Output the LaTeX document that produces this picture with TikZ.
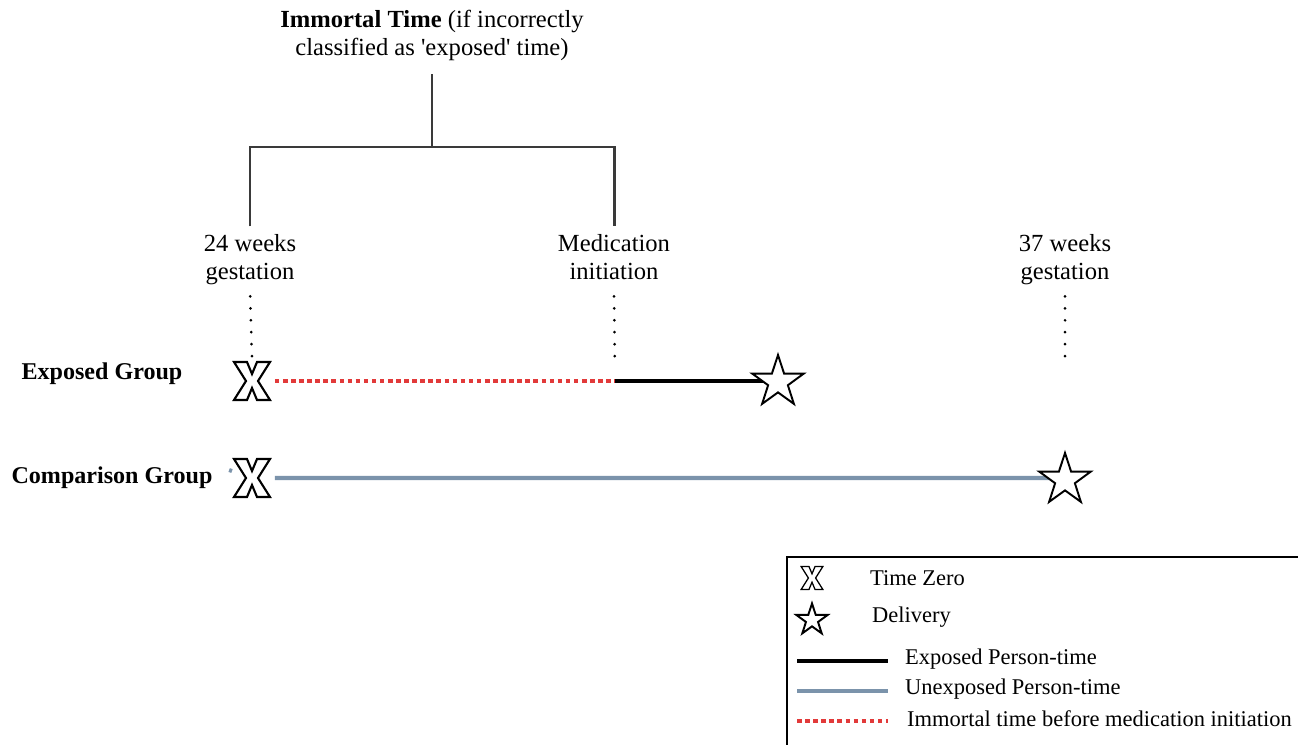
\documentclass[tikz,border=0pt]{standalone}
\usepackage{fontspec}
\setmainfont{Liberation Serif}
\usetikzlibrary{shapes.geometric,backgrounds}
\definecolor{brgray}{HTML}{3A3A3A}
\definecolor{unexp}{HTML}{7B93AB}
\definecolor{immred}{HTML}{E23A3A}
\newcommand\sq{\XeTeXglyph\XeTeXglyphindex "quotesingle" \relax}
\newcommand\twolines[2]{\begin{tabular}{@{}c@{}}#1\\#2\end{tabular}}
\tikzset{
  lbl/.style={font=\fontsize{14}{15.5}\selectfont, inner sep=1pt},
  grp/.style={font=\fontsize{13.7}{15.5}\selectfont\bfseries, inner sep=1pt},
  key/.style={font=\fontsize{12.8}{15}\selectfont, anchor=west, inner sep=1pt},
  bracket/.style={draw=brgray, line width=1.7pt},
  dots/.style={line width=1.7pt, line cap=round, dash pattern=on 0pt off 6.8pt},
  exposed/.style={line width=1.8pt},
  unexposed/.style={draw=unexp, line width=2.3pt},
  immortal/.style={draw=immred, line width=1.8pt, dash pattern=on 2.6pt off 2pt},
  zero/.style={minimum width=#1*0.9cm, minimum height=#1*0.9cm, inner sep=0pt,
    path picture={\draw[line width=#1*1.2pt, fill=white, shift={(path picture bounding box.center)}]
      ({-18*#1},{19*#1}) -- ({-5*#1},{19*#1}) -- (0,{7*#1}) -- ({5*#1},{19*#1}) -- ({18*#1},{19*#1})
      -- ({6*#1},0) -- ({18*#1},{-19*#1}) -- ({5*#1},{-19*#1}) -- (0,{-7*#1}) -- ({-5*#1},{-19*#1})
      -- ({-18*#1},{-19*#1}) -- ({-6*#1},0) -- cycle;}},
  birth/.style={star, star points=5, star point ratio=2.6, draw, fill=white, line width=1.1pt,
    minimum size=#1, inner sep=0pt}
}

\begin{document}
\begin{tikzpicture}[x=0.02cm, y=-0.02cm]
\useasboundingbox (0,0) rectangle (1298,744);
% time points
\node[lbl] (title) at (432,36) {\twolines{\textbf{Immortal Time} (if incorrectly}{classified as \sq exposed\sq{} time)}};
\node[lbl] (t24) at (250,260) {\twolines{24 weeks}{gestation}};
\node[lbl] (tmed) at (614,260) {\twolines{Medication}{initiation}};
\node[lbl] (t37) at (1065,260) {\twolines{37 weeks}{gestation}};
\coordinate (br) at (432,147);
\draw[bracket, shorten <=2.5pt, shorten >=2.5pt] (t24.north) |- (br) -| (tmed.north);
\draw[bracket, shorten >=5pt] (br) -- (title.south);

% groups
\node[grp] (egrp) at (102,374) {Exposed Group};
\node[grp] (cgrp) at (112,478) {Comparison Group};
\node[zero=1] (ex) at (252,381) {};
\node[birth=1.08cm] (es) at (778,382) {};
\coordinate (mi) at (615,381);
\node[zero=1] (cx) at (252,478) {};
\node[birth=1.08cm] (cs) at (1065,480) {};
\coordinate (stub) at (232,471);
\coordinate (g37) at (1065,366);

\begin{scope}[on background layer]
\draw[dots, shorten <=4pt] (t24.south) -- (ex.north);
\draw[dots, shorten <=4pt, shorten >=9pt] (tmed.south) -- (mi);
\draw[dots, shorten <=4pt] (t37.south) -- (g37);
\draw[immortal] (ex) -- (mi);
\draw[exposed] (mi) -- (mi -| es);
\draw[unexposed] (stub) -- (cx) -- (cx -| cs);
\end{scope}

% legend
\draw[line width=1.4pt] (787,557) rectangle (1330,780);
\node[zero=0.6] (lx) at (812,578) {};
\node[key] (lxt) at (868,578) {Time Zero};
\node[birth=0.66cm] (ls) at (812,620) {};
\node[key] (lst) at (870,617) {Delivery};
\coordinate (la1) at (797,661); \coordinate (lb1) at (888,661);
\coordinate (la2) at (797,691); \coordinate (lb2) at (888,691);
\coordinate (la3) at (797,721); \coordinate (lb3) at (888,721);
\draw[exposed] (la1) -- (lb1);
\draw[unexposed] (la2) -- (lb2);
\draw[immortal] (la3) -- (lb3);
\node[key] (lt1) at (903,659) {Exposed Person-time};
\node[key] (lt2) at (903,689) {Unexposed Person-time};
\node[key] (lt3) at (905,719) {Immortal time before medication initiation};
\end{tikzpicture}
\end{document}
